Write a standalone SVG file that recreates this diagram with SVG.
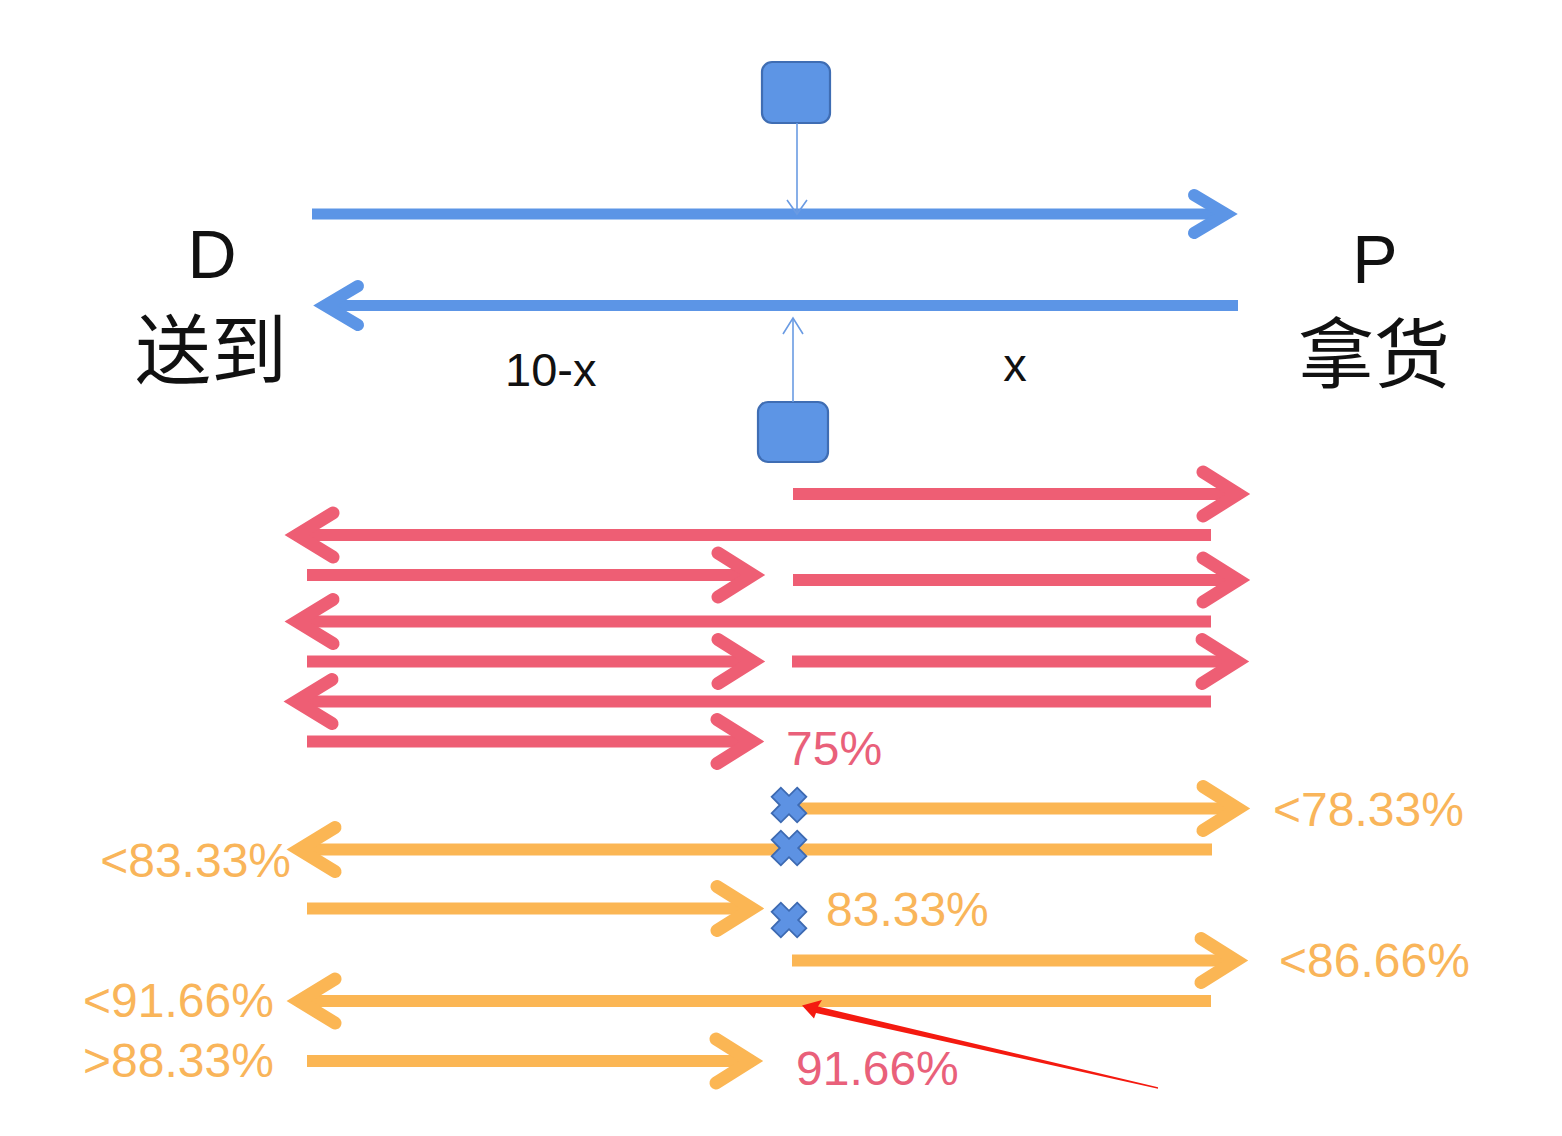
<svg xmlns="http://www.w3.org/2000/svg" width="1562" height="1136" viewBox="0 0 1562 1136">
<style>
  .bl { stroke: #5C95E6; stroke-width: 11; fill: none; stroke-linecap: butt; }
  .bh { stroke: #5C95E6; stroke-width: 12; fill: none; stroke-linecap: round; stroke-linejoin: miter; stroke-miterlimit: 6; }
  .rd { stroke: #EE5E74; stroke-width: 12; fill: none; stroke-linecap: butt; }
  .rh { stroke: #EE5E74; stroke-width: 13; fill: none; stroke-linecap: round; stroke-linejoin: miter; stroke-miterlimit: 6; }
  .or { stroke: #FBB654; stroke-width: 12; fill: none; stroke-linecap: butt; }
  .oh { stroke: #FBB654; stroke-width: 13; fill: none; stroke-linecap: round; stroke-linejoin: miter; stroke-miterlimit: 6; }
  .thin { stroke: #6A9BE3; stroke-width: 1.6; fill: none; }
  .box { fill: #5D95E5; stroke: #3F6DB3; stroke-width: 2.2; }
  .cross { fill: #5D92E3; stroke: #3D6AB2; stroke-width: 1.8; }
  .big { font-family: "Liberation Sans", Arial, sans-serif; font-size: 68px; fill: #111; }
  .cjk { font-family: "Noto Sans CJK SC", "Noto Sans CJK JP", sans-serif; font-size: 76px; fill: #111; }
  .mid { font-family: "Liberation Sans", Arial, sans-serif; font-size: 47px; fill: #111; }
  .pct { font-family: "Liberation Sans", Arial, sans-serif; font-size: 48px; }
  .po { fill: #F9B55A; }
  .pr { fill: #E9607A; }
</style>
<defs>
  <polygon id="xmark" class="cross" points="-6.5,-18 6.5,-18 6.5,-6.5 18,-6.5 18,6.5 6.5,6.5 6.5,18 -6.5,18 -6.5,6.5 -18,6.5 -18,-6.5 -6.5,-6.5" transform="rotate(45)"/>
</defs>

<g id="labels">
  <text class="big" x="212" y="278" text-anchor="middle">D</text>
  <text class="cjk" x="211" y="378" text-anchor="middle">送到</text>
  <text class="big" x="1375" y="283" text-anchor="middle">P</text>
  <text class="cjk" x="1374" y="382" text-anchor="middle">拿货</text>
  <text class="mid" x="505" y="386">10-x</text>
  <text class="mid" x="1015" y="381" text-anchor="middle">x</text>
</g>

<g id="node-top">
  <rect class="box" x="762" y="62" width="68" height="61" rx="10"/>
</g>
<g id="node-bottom">
  <rect class="box" x="758" y="402" width="70" height="60" rx="10"/>
</g>

<g id="connectors">
  <!-- blue main arrows -->
  <line class="bl" x1="312" y1="214" x2="1226" y2="214"/>
  <polyline class="bh" points="1194,195 1226,214 1194,233"/>
  <line class="bl" x1="1238" y1="305.5" x2="325" y2="305.5"/>
  <polyline class="bh" points="358,286 325,305.5 358,325"/>

  <!-- thin connectors from squares -->
  <line class="thin" x1="797" y1="123" x2="797" y2="214"/>
  <polyline class="thin" points="787,200 797,214 807,200"/>
  <line class="thin" x1="793" y1="402" x2="793" y2="318"/>
  <polyline class="thin" points="783,334 793,318 803,334"/>

  <!-- red arrows -->
  <line class="rd" x1="793" y1="494" x2="1238" y2="494"/>
  <polyline class="rh" points="1203,472 1238,494 1203,516"/>
  <line class="rd" x1="1211" y1="535" x2="297" y2="535"/>
  <polyline class="rh" points="333,513 297,535 333,557"/>
  <line class="rd" x1="307" y1="575" x2="753" y2="575"/>
  <polyline class="rh" points="718,553 753,575 718,597"/>
  <line class="rd" x1="793" y1="580" x2="1238" y2="580"/>
  <polyline class="rh" points="1203,558 1238,580 1203,602"/>
  <line class="rd" x1="1211" y1="621.5" x2="297" y2="621.5"/>
  <polyline class="rh" points="333,599.5 297,621.5 333,643.5"/>
  <line class="rd" x1="307" y1="661.5" x2="753" y2="661.5"/>
  <polyline class="rh" points="718,639.5 753,661.5 718,683.5"/>
  <line class="rd" x1="792" y1="661.5" x2="1237" y2="661.5"/>
  <polyline class="rh" points="1202,639.5 1237,661.5 1202,683.5"/>
  <line class="rd" x1="1211" y1="701.5" x2="296" y2="701.5"/>
  <polyline class="rh" points="332,679.5 296,701.5 332,723.5"/>
  <line class="rd" x1="307" y1="741.5" x2="752" y2="741.5"/>
  <polyline class="rh" points="717,719.5 752,741.5 717,763.5"/>

  <!-- orange arrows -->
  <line class="or" x1="798" y1="808.5" x2="1238" y2="808.5"/>
  <polyline class="oh" points="1203,786.5 1238,808.5 1203,830.5"/>
  <line class="or" x1="1212" y1="849.5" x2="299" y2="849.5"/>
  <polyline class="oh" points="335,827.5 299,849.5 335,871.5"/>
  <line class="or" x1="307" y1="908.5" x2="752" y2="908.5"/>
  <polyline class="oh" points="717,886.5 752,908.5 717,930.5"/>
  <line class="or" x1="792" y1="960.5" x2="1236" y2="960.5"/>
  <polyline class="oh" points="1201,938.5 1236,960.5 1201,982.5"/>
  <line class="or" x1="1211" y1="1001" x2="299" y2="1001"/>
  <polyline class="oh" points="335,979 299,1001 335,1023"/>
  <line class="or" x1="307" y1="1061" x2="751" y2="1061"/>
  <polyline class="oh" points="716,1039 751,1061 716,1083"/>

  <!-- red pointer arrow -->
  <polygon fill="#F41A10" points="802,1005.5 822,1000 818,1006.5 1158,1087.3 1158,1088.7 816,1013 814,1018.5"/>
</g>

<g id="crosses">
  <use href="#xmark" x="789" y="805"/>
  <use href="#xmark" x="789" y="848"/>
  <use href="#xmark" x="789" y="920"/>
</g>

<g id="values">
  <text class="pct pr" x="786" y="765">75%</text>
  <text class="pct po" x="1273" y="826">&lt;78.33%</text>
  <text class="pct po" x="291" y="877" text-anchor="end">&lt;83.33%</text>
  <text class="pct po" x="826" y="926">83.33%</text>
  <text class="pct po" x="1279" y="977">&lt;86.66%</text>
  <text class="pct po" x="83" y="1017">&lt;91.66%</text>
  <text class="pct po" x="83" y="1077">&gt;88.33%</text>
  <text class="pct pr" x="796" y="1085">91.66%</text>
</g>
</svg>
